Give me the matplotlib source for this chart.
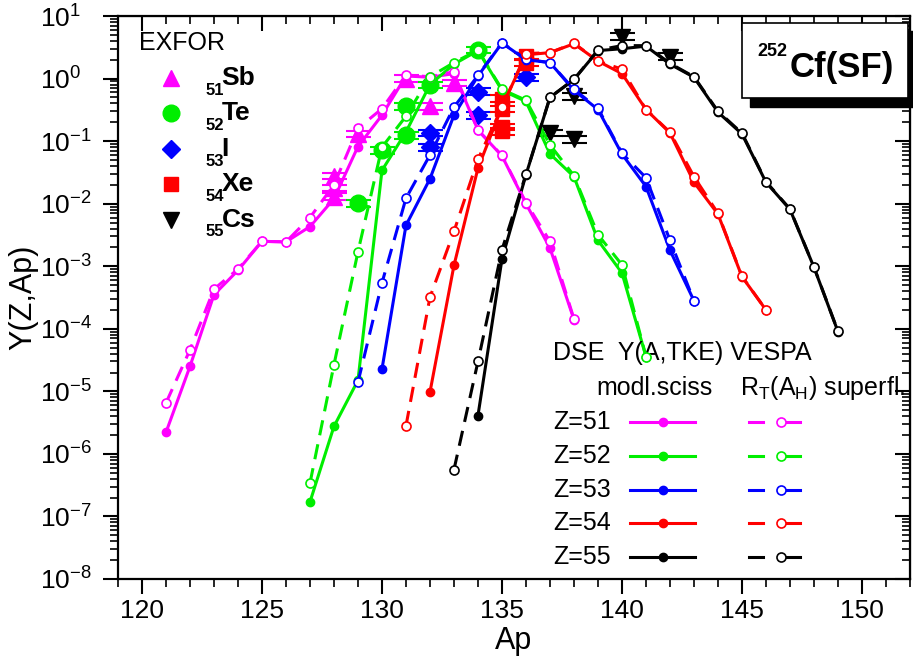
import numpy as np
import matplotlib
matplotlib.use("Agg")
import matplotlib.pyplot as plt
from matplotlib.lines import Line2D
from matplotlib.patches import Rectangle
from matplotlib.ticker import LogLocator, LogFormatterSciNotation, MultipleLocator

plt.rcParams['font.family'] = ['Liberation Sans', 'DejaVu Sans']
plt.rcParams['mathtext.fontset'] = 'custom'
plt.rcParams['mathtext.rm'] = 'Liberation Sans'
plt.rcParams['mathtext.it'] = 'Liberation Sans:italic'
plt.rcParams['mathtext.bf'] = 'Liberation Sans:bold'

# ---------------- data ----------------
# DSE Y(A,TKE) modl.sciss (solid, filled markers)
dse_A51 = list(range(121, 139))
dse_Y51 = [2.2e-6, 2.5e-5, 3.5e-4, 8.6e-4, 2.5e-3, 2.45e-3, 4.3e-3, 0.012, 0.082, 0.26,
           1.1, 1.05, 1.2, 0.15, 0.058, 0.0100, 1.95e-3, 1.4e-4]
dse_A52 = list(range(127, 142))
dse_Y52 = [1.7e-7, 2.75e-6, 1.5e-5, 0.034, 0.14, 0.8, 1.7, 2.8, 0.65, 0.43, 0.0625,
           0.027, 2.6e-3, 7.8e-4, 3.6e-5]
dse_A53 = list(range(130, 144))
dse_Y53 = [2.26e-5, 4.5e-3, 0.025, 0.26, 1.1, 3.7, 2.0, 1.8, 0.65, 0.32, 0.062, 0.0188,
           1.8e-3, 2.8e-4]
dse_A54 = list(range(132, 147))
dse_Y54 = [9.7e-6, 1.03e-3, 0.037, 0.35, 2.4, 2.6, 3.6, 1.9, 1.2, 0.32, 0.135, 0.022,
           6.8e-3, 6.8e-4, 2.0e-4]
dse_A55 = list(range(134, 150))
dse_Y55 = [4.1e-6, 1.3e-3, 0.029, 0.5, 0.97, 2.8, 3.0, 3.3, 1.7, 1.05, 0.29, 0.13,
           0.022, 8.1e-3, 9.6e-4, 9.0e-5]

# VESPA R_T(A_H) superfl. (dashed, open markers)
ves_A51 = list(range(121, 139))
ves_Y51 = [6.5e-6, 4.6e-5, 4.3e-4, 9.0e-4, 2.5e-3, 2.45e-3, 6.0e-3, 0.02, 0.16, 0.33,
           1.14, 1.07, 1.29, 0.15, 0.059, 0.0104, 2.5e-3, 1.43e-4]
ves_A52 = list(range(127, 142))
ves_Y52 = [3.4e-7, 2.66e-5, 1.7e-3, 0.08, 0.25, 1.07, 1.8, 2.86, 0.67, 0.45, 0.087,
           0.028, 3.2e-3, 1.05e-3, 3.6e-5]
ves_A53 = list(range(129, 144))
ves_Y53 = [1.4e-5, 5.4e-4, 0.0122, 0.06, 0.35, 1.12, 3.75, 2.03, 1.8, 0.67, 0.335,
           0.064, 0.026, 2.6e-3, 2.8e-4]
ves_A54 = list(range(131, 147))
ves_Y54 = [2.8e-6, 3.2e-4, 3.6e-3, 0.051, 0.35, 2.5, 2.6, 3.66, 1.91, 1.41, 0.32,
           0.139, 0.027, 7.0e-3, 6.9e-4, 2.0e-4]
ves_A55 = list(range(133, 150))
ves_Y55 = [5.6e-7, 3.0e-5, 1.83e-3, 0.0296, 0.5, 0.97, 2.86, 3.36, 3.36, 1.75, 1.07,
           0.3, 0.134, 0.0225, 8.2e-3, 9.7e-4, 9.1e-5]

# EXFOR experimental data
exf_Sb_A = [128, 128, 128, 129, 131, 132, 133]
exf_Sb_Y = [0.028, 0.018, 0.013, 0.13, 1.0, 0.36, 0.85]
exf_Te_A = [129, 130, 131, 131, 132, 134]
exf_Te_Y = [0.0102, 0.072, 0.36, 0.125, 0.8, 2.9]
exf_I_A = [132, 132, 134, 134, 136]
exf_I_Y = [0.135, 0.08, 0.62, 0.26, 1.05]
exf_Xe_A = [135, 135, 135, 135, 136, 136]
exf_Xe_Y = [0.48, 0.33, 0.17, 0.145, 2.3, 1.8]
exf_Cs_A = [137, 138, 138, 140, 142]
exf_Cs_Y = [0.135, 0.52, 0.107, 4.7, 2.25]

z_labels = ['Z=51', 'Z=52', 'Z=53', 'Z=54', 'Z=55']
colors = ['#ff00ff', '#00ee00', '#0000ff', '#ff0000', '#000000']
exf_names = [('51', 'Sb'), ('52', 'Te'), ('53', 'I'), ('54', 'Xe'), ('55', 'Cs')]
exf_markers = ['^', 'o', 'D', 's', 'v']
exf_sizes = [11, 12, 9, 10, 11]

dse_A = [dse_A51, dse_A52, dse_A53, dse_A54, dse_A55]
dse_Y = [dse_Y51, dse_Y52, dse_Y53, dse_Y54, dse_Y55]
ves_A = [ves_A51, ves_A52, ves_A53, ves_A54, ves_A55]
ves_Y = [ves_Y51, ves_Y52, ves_Y53, ves_Y54, ves_Y55]
exf_A = [exf_Sb_A, exf_Te_A, exf_I_A, exf_Xe_A, exf_Cs_A]
exf_Y = [exf_Sb_Y, exf_Te_Y, exf_I_Y, exf_Xe_Y, exf_Cs_Y]

# ---------------- figure ----------------
fig = plt.figure(figsize=(9.13, 6.62), dpi=100)
ax = fig.add_axes([0.1292, 0.1254, 0.8675, 0.8504])
ax.set_yscale('log')
ax.set_xlim(119, 152)
ax.set_ylim(1e-8, 10)

DASH = (5, 3)
for i in range(5):
    c = colors[i]
    yerr = np.array(exf_Y[i]) * 0.12
    ax.errorbar(exf_A[i], exf_Y[i], yerr=yerr, fmt=exf_markers[i], color=c,
                ms=exf_sizes[i], mec=c, mfc=c, ecolor=c, elinewidth=1.5,
                capsize=9, capthick=1.5, zorder=2)
for i in range(5):
    c = colors[i]
    ax.plot(dse_A[i], dse_Y[i], '-', color=c, lw=2.2, marker='o', ms=6,
            mfc=c, mec=c, zorder=3)
    ax.plot(ves_A[i], ves_Y[i], color=c, lw=2.2, dashes=DASH, marker='o', ms=6.5,
            mfc='white', mec=c, mew=1.2, zorder=4)

# ticks
ax.xaxis.set_major_locator(MultipleLocator(5))
ax.xaxis.set_minor_locator(MultipleLocator(1))
ax.yaxis.set_major_locator(LogLocator(base=10, numticks=20))
ax.yaxis.set_minor_locator(LogLocator(base=10, subs=np.arange(2, 10), numticks=20))
ax.yaxis.set_major_formatter(LogFormatterSciNotation())
ax.tick_params(axis='both', which='major', labelsize=19, width=1.5, length=11)
ax.tick_params(axis='both', which='minor', width=1.2, length=6)
ax.tick_params(axis='x', which='both', direction='out', top=False)
ax.tick_params(axis='y', which='both', direction='out', right=False)
ax.tick_params(axis='y', which='major', pad=45)
for s in ax.spines.values():
    s.set_linewidth(1.6)
fig.canvas.draw()
plt.setp(ax.get_yticklabels(), ha='left')

secx = ax.secondary_xaxis('top')
secx.xaxis.set_major_locator(MultipleLocator(5))
secx.xaxis.set_minor_locator(MultipleLocator(1))
secx.tick_params(which='major', direction='in', length=11, width=1.5, labeltop=False)
secx.tick_params(which='minor', direction='in', length=6, width=1.2)
secx.set_xticklabels([])
secy = ax.secondary_yaxis('right')
secy.yaxis.set_major_locator(LogLocator(base=10, numticks=20))
secy.yaxis.set_minor_locator(LogLocator(base=10, subs=np.arange(2, 10), numticks=20))
secy.tick_params(which='major', direction='in', length=11, width=1.5, labelright=False)
secy.tick_params(which='minor', direction='in', length=6, width=1.2)

ax.set_xlabel('Ap', fontsize=22, labelpad=2)
ax.set_ylabel('Y(Z,Ap)', fontsize=22)
ax.yaxis.set_label_coords(-0.1, 0.5)

# EXFOR legend
T = ax.transAxes
ax.text(0.0265, 0.9526, 'EXFOR', transform=T, fontsize=18, va='center', ha='left')
rows_y = [0.8894, 0.8272, 0.7633, 0.7010, 0.6377]
for i in range(5):
    c = colors[i]
    ax.plot([0.0669], [rows_y[i]], transform=T, marker=exf_markers[i], color=c,
            ms=exf_sizes[i], ls='none', clip_on=False)
    ax.text(0.110, rows_y[i] - 0.021, exf_names[i][0], transform=T, fontsize=12,
            fontweight='bold', va='center', ha='left')
    ax.text(0.131, rows_y[i], exf_names[i][1], transform=T, fontsize=19,
            fontweight='bold', va='center', ha='left')

# title box with shadow
ax.add_patch(Rectangle((0.7975, 0.8389), 0.21, 0.135, transform=T, facecolor='black',
                       edgecolor='black', clip_on=False, zorder=6))
ax.add_patch(Rectangle((0.7875, 0.8538), 0.21, 0.1343, transform=T, facecolor='white',
                       edgecolor='black', lw=1.2, clip_on=False, zorder=7))
ax.text(0.807, 0.9366, '252', transform=T, fontsize=13, fontweight='bold',
        va='center', ha='left', zorder=8)
ax.text(0.8485, 0.9085, 'Cf(SF)', transform=T, fontsize=25, fontweight='bold',
        va='center', ha='left', zorder=8)

# model legend
ax.text(0.5492, 0.4008, 'DSE  Y(A,TKE) VESPA', transform=T, fontsize=18,
        va='center', ha='left')
ax.text(0.6035, 0.3387, 'modl.sciss', transform=T, fontsize=18, va='center', ha='left')
ax.text(0.7854, 0.3387, r'R$_\mathregular{T}$(A$_\mathregular{H}$) superfl.',
        transform=T, fontsize=18, va='center', ha='left')
leg_y = [0.2794, 0.2185, 0.1581, 0.0989, 0.0391]
for i in range(5):
    c = colors[i]
    ax.text(0.5492, leg_y[i], z_labels[i], transform=T, fontsize=18, va='center',
            ha='left')
    ax.add_line(Line2D([0.6465, 0.7285], [leg_y[i], leg_y[i]], transform=T, color=c,
                       lw=2.2))
    ax.add_line(Line2D([0.6877], [leg_y[i]], transform=T, color=c, marker='o', ms=6,
                       ls='none'))
    ax.add_line(Line2D([0.7967, 0.8144], [leg_y[i], leg_y[i]], transform=T, color=c,
                       lw=2.2))
    ax.add_line(Line2D([0.8422, 0.8611], [leg_y[i], leg_y[i]], transform=T, color=c,
                       lw=2.2))
    ax.add_line(Line2D([0.8367], [leg_y[i]], transform=T, color=c, marker='o', ms=6.5,
                       mfc='white', mec=c, mew=1.2, ls='none'))

fig.savefig('out.png', dpi=100)
